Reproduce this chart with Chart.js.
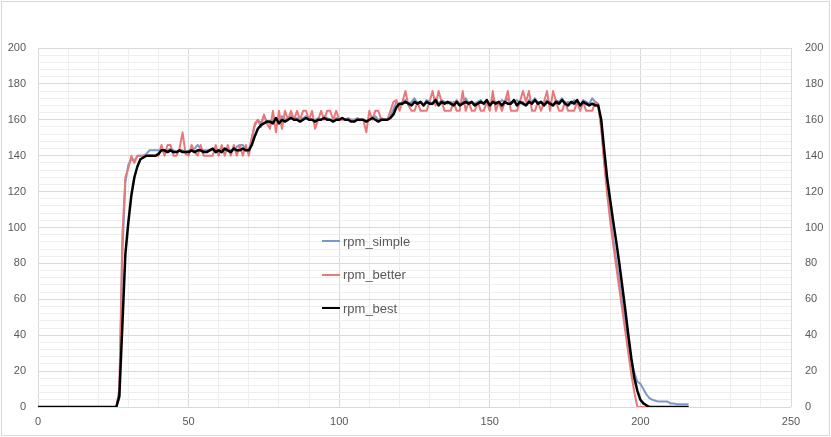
<!DOCTYPE html>
<html>
<head>
<meta charset="utf-8">
<title>rpm</title>
<script src="https://cdn.jsdelivr.net/npm/chart.js@4/dist/chart.umd.min.js"></script>
<style>
    html, body { margin: 0; padding: 0; background: #fff; }
    #wrap { position: relative; width: 831px; height: 437px; }
    #legend { position: absolute; left: 0; top: 0; }
    .legend-item {
        position: absolute;
        left: 322px;
        height: 20px;
        display: flex;
        align-items: center;
        font: 13px "Liberation Sans", Arial, sans-serif;
        color: #595959;
        white-space: nowrap;
    }
    .legend-line { width: 18px; margin-right: 3px; }
</style>
</head>
<body>
<div id="wrap">
    <canvas id="rpmChart" width="831" height="437"></canvas>
    <div id="legend"></div>
</div>
<script>
// sample index (x axis)
const samples = [];
for (let i = 0; i <= 216; i++) samples.push(i);

const startZeros = [0,0,0,0,0,0,0,0,0,0, 0,0,0,0,0,0,0,0,0,0, 0,0,0,0,0,0,0];

const rpmSimple = startZeros.concat([
    5,85,125,135,138,137,140,140,140,141,
    143,143,143,143,143,143,143,144,143,142,
    143,143,142,143,143,144,146,144,143,143,
    143,143,143,143,144,143,143,143,143,145,
    146,146,143,143,150,157,160,158,162,159,
    158,160,161,160,162,160,161,162,160,161,
    160,161,162,161,160,160,161,160,162,161,
    160,160,161,160,161,160,161,160,160,161,
    160,160,159,160,161,162,160,161,160,160,
    162,166,170,168,170,171,169,170,172,169,
    170,168,171,170,169,172,169,171,170,169,
    170,169,171,169,170,172,169,170,169,170,
    171,169,170,168,171,170,169,171,170,172,
    169,170,171,169,170,168,171,170,172,169,
    170,169,171,170,168,171,170,172,169,170,
    169,171,170,168,171,170,169,172,170,169,
    156,137,121,107,94,82,70,58,47,36,
    26,19,14,13,10,7,5,4,3.5,3,
    3,3,3,2,2,1.5,1.5,1.5,1.5,1.5
]);

const rpmBetter = startZeros.concat([
    10,95,128,133,140,136,140,140,140,140,
    140,140,140,140,146,140,146,146,140,140,
    144,153,141,140,146,142,140,146,140,140,
    140,140,146,140,146,140,146,140,146,140,
    146,140,146,140,150,158,160,156,163,158,
    155,165,153,165,155,165,160,165,160,165,
    160,165,165,160,165,155,160,165,160,165,
    165,160,165,160,160,160,160,160,160,160,
    160,160,153,165,160,165,165,160,160,160,
    165,170,171,165,170,176,168,165,165,170,
    165,165,165,170,176,168,176,170,165,165,
    165,170,165,165,176,165,170,165,165,170,
    165,165,170,165,176,165,170,165,170,176,
    165,165,165,170,176,170,176,165,165,170,
    165,170,176,165,176,170,165,165,170,165,
    165,165,170,165,170,165,165,165,170,168,
    155,135,118,103,90,78,66,54,42,30,
    18,8,0,0,0,0,0,0,0,0,
    0,0,0,0,0,0,0,0,0,0
]);

const rpmBest = startZeros.concat([
    6,45,85,103,118,128,134,138,139,140,
    140,140,140,141,143,143,142,143,142,142,
    143,142,142,142,143,142,143,143,142,142,
    143,144,142,143,142,144,143,142,144,143,
    143,144,143,143,146,151,155,157,158,159,
    159,158,161,158,160,159,160,161,160,160,
    159,160,161,160,160,159,160,160,161,160,
    160,159,160,160,161,160,160,159,159,160,
    160,160,159,160,161,160,159,160,160,160,
    161,163,167,169,169,170,169,168,170,169,
    170,168,170,169,169,171,168,170,169,170,
    169,168,170,168,169,170,169,170,168,169,
    170,169,171,168,170,169,170,168,170,169,
    169,171,168,170,169,168,170,169,171,169,
    170,168,170,169,168,170,169,171,169,168,
    170,169,171,168,170,169,168,169,168,168,
    160,143,127,115,103,92,80,67,54,40,
    27,16,9,4,2,1,0,0,0,0,
    0,0,0,0,0,0,0,0,0,0
]);

const seriesNames = ['rpm_simple', 'rpm_better', 'rpm_best'];
const seriesColors = ['#7b98cc', '#e8797b', '#000000'];

const tickFont = { family: '"Liberation Sans", Arial, sans-serif', size: 11 };
const tickColor = '#595959';

function majorY(v) { return v % 20 === 0; }
function yLabel(v) { return majorY(v) ? v : ''; }

// frame around the whole chart, like the spreadsheet chart box
const framePlugin = {
    id: 'frame',
    beforeDraw(chart) {
        const c = chart.ctx;
        c.save();
        c.fillStyle = '#fff';
        c.fillRect(0, 0, chart.width, chart.height);
        c.strokeStyle = '#d9d9d9';
        c.lineWidth = 1;
        c.strokeRect(1.5, 1.5, chart.width - 3, chart.height - 3);
        c.restore();
    }
};

const chart = new Chart(document.getElementById('rpmChart'), {
    type: 'line',
    data: {
        labels: samples,
        datasets: [
            { label: seriesNames[0], data: rpmSimple, borderColor: seriesColors[0], borderWidth: 2, order: 2 },
            { label: seriesNames[1], data: rpmBetter, borderColor: seriesColors[1], borderWidth: 2, order: 1 },
            { label: seriesNames[2], data: rpmBest, borderColor: seriesColors[2], borderWidth: 2.5, order: 0 }
        ]
    },
    options: {
        responsive: false,
        animation: false,
        elements: {
            point: { radius: 0 },
            line: { tension: 0, borderJoinStyle: 'round' }
        },
        layout: { padding: { top: 48, left: 0, right: 0, bottom: 0 } },
        plugins: {
            legend: { display: false },
            tooltip: { enabled: false }
        },
        scales: {
            x: {
                type: 'linear',
                min: 0,
                max: 250,
                afterFit(scale) { scale.height = 30; },
                ticks: {
                    stepSize: 10,
                    autoSkip: false,
                    maxRotation: 0,
                    padding: 8,
                    font: tickFont,
                    color: tickColor,
                    callback: v => (v % 50 === 0 ? v : '')
                },
                grid: {
                    drawTicks: false,
                    color: ctx => (ctx.tick && ctx.tick.value % 50 === 0 ? '#d9d9d9' : '#eeeeee')
                },
                border: { display: false }
            },
            y: {
                position: 'left',
                min: 0,
                max: 200,
                afterFit(scale) { scale.width = 38; },
                ticks: {
                    stepSize: 4,
                    autoSkip: false,
                    padding: 12,
                    font: tickFont,
                    color: tickColor,
                    callback: yLabel
                },
                grid: {
                    drawTicks: false,
                    color: ctx => (ctx.tick && majorY(ctx.tick.value) ? '#d9d9d9' : '#eeeeee')
                },
                border: { display: false }
            },
            y2: {
                position: 'right',
                min: 0,
                max: 200,
                afterFit(scale) { scale.width = 40; },
                ticks: {
                    stepSize: 4,
                    autoSkip: false,
                    padding: 14,
                    font: tickFont,
                    color: tickColor,
                    callback: yLabel
                },
                grid: { display: false, drawTicks: false },
                border: { display: false }
            }
        }
    },
    plugins: [framePlugin]
});

// legend sits inside the plot, stacked vertically
const legendBox = document.getElementById('legend');
const legendTops = [241, 274.5, 308];
chart.data.datasets.forEach((ds, i) => {
    const item = document.createElement('div');
    item.className = 'legend-item';
    item.style.top = (legendTops[i] - 10) + 'px';
    const line = document.createElement('span');
    line.className = 'legend-line';
    line.style.height = ds.borderWidth + 'px';
    line.style.background = ds.borderColor;
    const text = document.createElement('span');
    text.textContent = ds.label;
    item.appendChild(line);
    item.appendChild(text);
    legendBox.appendChild(item);
});
</script>
</body>
</html>
